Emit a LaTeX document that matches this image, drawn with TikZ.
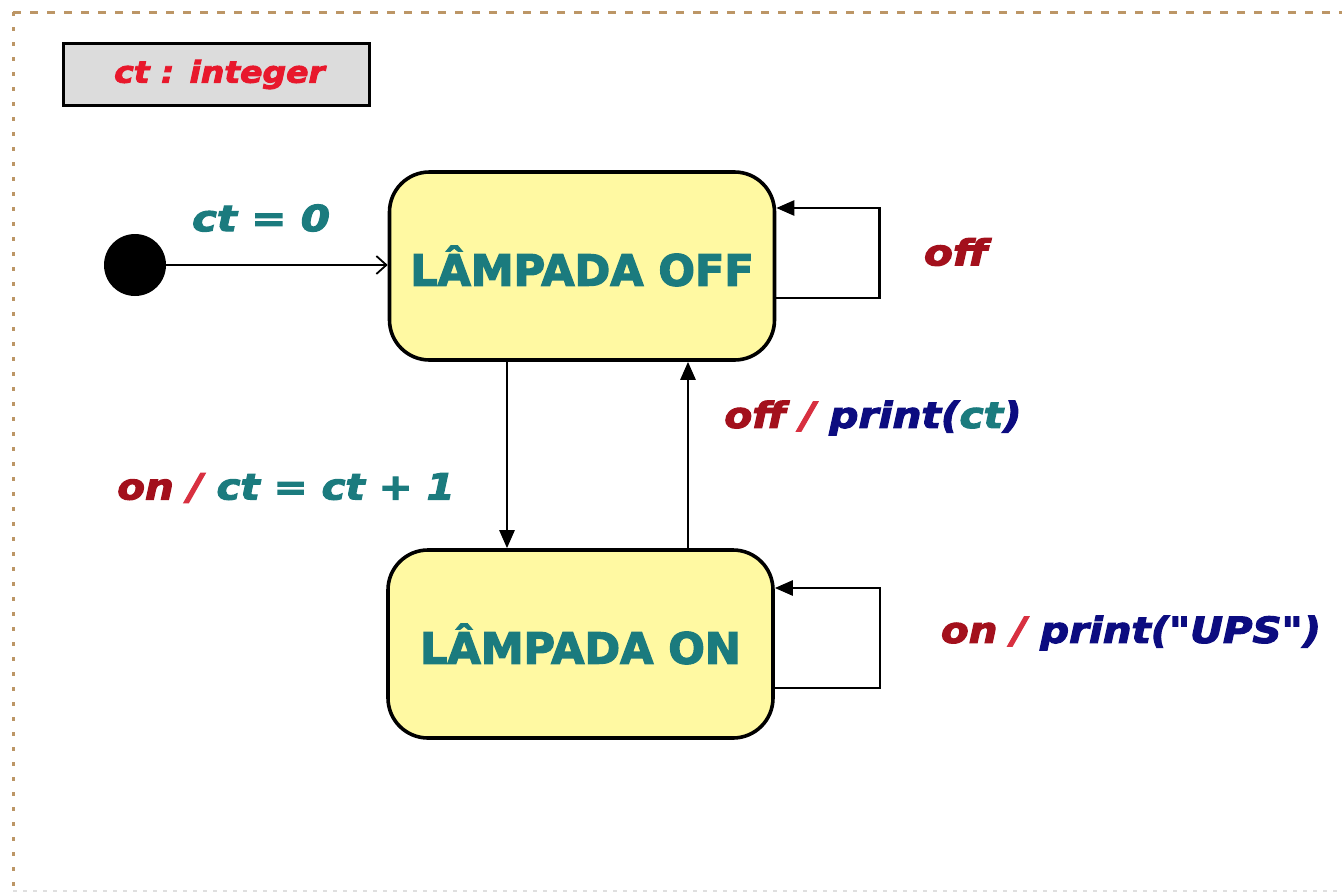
\documentclass[tikz,border=0pt]{standalone}
\usepackage{fontspec}
\setmainfont{DejaVu Sans}
\newfontfamily\heavyfont{DejaVu Sans}[BoldFeatures={FakeBold=3}, BoldItalicFeatures={FakeBold=3}]
\usetikzlibrary{arrows.meta}
\definecolor{tealtxt}{HTML}{1B7B7E}
\definecolor{evred}{HTML}{A3101C}
\definecolor{slashred}{HTML}{D83040}
\definecolor{navytxt}{HTML}{0C0C80}
\definecolor{varred}{HTML}{E8182C}
\definecolor{statefill}{HTML}{FFF9A2}
\definecolor{varfill}{HTML}{DCDCDC}
\definecolor{frametan}{HTML}{BC9666}
\newcommand{\lbl}[2]{\scalebox{#1}[1]{#2}}
\newcommand{\dq}{{\char34}}
\tikzset{
  statebox/.style={draw=black, line width=3.6pt, fill=statefill, rounded corners=40pt,
    minimum width=385pt, minimum height=188pt, inner sep=0pt,
    font=\heavyfont\fontsize{43}{47}\selectfont\bfseries, text=tealtxt},
  varbox/.style={draw=black, line width=3.6pt, fill=varfill, minimum width=306pt,
    minimum height=62pt, inner sep=0pt,
    font=\heavyfont\fontsize{30}{34}\selectfont\bfseries\itshape, text=varred},
  trlabel/.style={inner sep=0pt, font=\heavyfont\fontsize{36}{40}\selectfont\bfseries\itshape},
  conn/.style={line width=2.6pt, draw=black},
  solid tip/.style={conn, -{Triangle[length=18pt,width=15pt]}},
  open tip/.style={conn, -{Straight Barb[length=10pt,width=18pt,line width=1.8pt]}},
  frame/.style={draw=frametan, line width=3pt}
}
\begin{document}
\begin{tikzpicture}[x=1pt, y=-1pt]
  \useasboundingbox (0,0) rectangle (1342,895);
  \fill[white] (0,0) rectangle (1342,895);

  % dashed frame (top and left edges, faint bottom edge)
  \draw[frame, dash pattern=on 8pt off 9pt] (13,12) -- (1342,12);
  \draw[frame, dash pattern=on 4pt off 11pt] (13,12) -- (13,890);
  \draw[draw=gray!25, line width=2pt, dash pattern=on 4pt off 6pt] (13,891) -- (1342,891);

  % attribute declaration
  \node[varbox] (var) at (216.5,74.5) {\hspace*{6pt}\lbl{1.1}{ct : integer}};

  % states
  \node[statebox] (off) at (582,266) {LÂMPADA OFF};
  \node[statebox] (on)  at (580.5,644) {LÂMPADA ON};

  % initial pseudo-state
  \node[circle, fill=black, minimum size=62pt, inner sep=0pt] (init) at (135,265) {};
  \draw[open tip] (init.east) -- (init.east -| off.west);

  % transitions between the two states
  \coordinate (dx) at (507,0);
  \coordinate (ux) at (688,0);
  \draw[solid tip] (off.south -| dx) -- (on.north -| dx);
  \draw[solid tip] (on.north -| ux) -- (off.south -| ux);

  % self transitions
  \draw[solid tip] ([yshift=-32pt]off.east) -- ++(103,0) |- ([yshift=58pt]off.east);
  \draw[solid tip] ([yshift=-44pt]on.east) -- ++(105,0) |- ([yshift=56pt]on.east);

  % labels
  \node[trlabel, text=tealtxt] (l0) at (261,218) {\lbl{1.16}{ct = 0}};
  \node[trlabel, text=evred] (l1) at (956,252) {\lbl{1.17}{off}};
  \node[trlabel] (l2) at (873,418) {\lbl{1.13}{\textcolor{evred}{off} \textcolor{slashred}{/} \textcolor{navytxt}{print(}\textcolor{tealtxt}{ct}\textcolor{navytxt}{)}}};
  \node[trlabel] (l3) at (286,488) {\lbl{1.12}{\textcolor{evred}{on} \textcolor{slashred}{/} \textcolor{tealtxt}{ct = ct + 1}}};
  \node[trlabel] (l4) at (1131,633) {\lbl{1.12}{\textcolor{evred}{on} \textcolor{slashred}{/} \textcolor{navytxt}{print(\dq UPS\dq)}}};
\end{tikzpicture}
\end{document}
